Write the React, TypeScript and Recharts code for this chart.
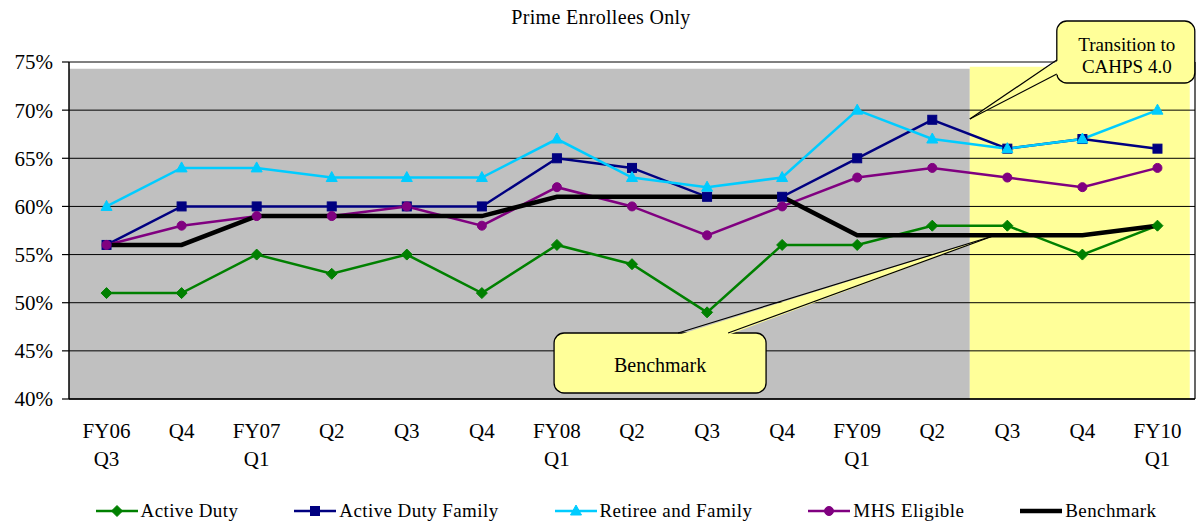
import React from "react";
import {
  LineChart,
  Line,
  XAxis,
  YAxis,
  CartesianGrid,
  ReferenceArea,
  ReferenceDot,
  ReferenceLine,
  Legend,
} from "recharts";

const FONT = '"Liberation Serif", "Times New Roman", serif';

// quarter labels, split in two rows like the original
const quarterTop = ["FY06", "Q4", "FY07", "Q2", "Q3", "Q4", "FY08", "Q2", "Q3", "Q4", "FY09", "Q2", "Q3", "Q4", "FY10"];
const quarterBottom = ["Q3", "", "Q1", "", "", "", "Q1", "", "", "", "Q1", "", "", "", "Q1"];

// percent values per quarter
const activeDuty = [51, 51, 55, 53, 55, 51, 56, 54, 49, 56, 56, 58, 58, 55, 58];
const activeDutyFamily = [56, 60, 60, 60, 60, 60, 65, 64, 61, 61, 65, 69, 66, 67, 66];
const retireeFamily = [60, 64, 64, 63, 63, 63, 67, 63, 62, 63, 70, 67, 66, 67, 70];
const mhsEligible = [56, 58, 59, 59, 60, 58, 62, 60, 57, 60, 63, 64, 63, 62, 64];
const benchmark = [56, 56, 59, 59, 59, 59, 61, 61, 61, 61, 57, 57, 57, 57, 58];

const yTicks = [40, 45, 50, 55, 60, 65, 70, 75];

const rows = quarterTop.map((q, i) => ({
  idx: i,
  ad: activeDuty[i],
  adf: activeDutyFamily[i],
  ret: retireeFamily[i],
  mhs: mhsEligible[i],
  bench: benchmark[i],
}));

const centerTicks = quarterTop.map((_, i) => i);
const edgeTicks = [...centerTicks.map((i) => i - 0.5), quarterTop.length - 0.5];

// axis ids: the tick-mark axis must sort first so it sits right under the plot
const EDGE = "a_edge";
const CAT = "b_cat";

type Shape = "diamond" | "square" | "triangle" | "circle" | "none";

const series: { key: string; name: string; color: string; width: number; shape: Shape }[] = [
  { key: "ad", name: "Active Duty", color: "#008000", width: 2.5, shape: "diamond" },
  { key: "adf", name: "Active Duty Family", color: "#000080", width: 2.5, shape: "square" },
  { key: "ret", name: "Retiree and Family", color: "#00CCFF", width: 2.5, shape: "triangle" },
  { key: "mhs", name: "MHS Eligible", color: "#800080", width: 2.5, shape: "circle" },
  { key: "bench", name: "Benchmark", color: "#000000", width: 4.5, shape: "none" },
];

function Marker({ cx, cy, shape, color }: { cx: number; cy: number; shape: Shape; color: string }) {
  if (cx == null || cy == null) return null;
  switch (shape) {
    case "diamond":
      return <polygon points={`${cx},${cy - 5.5} ${cx + 5.5},${cy} ${cx},${cy + 5.5} ${cx - 5.5},${cy}`} fill={color} stroke={color} />;
    case "square":
      return <rect x={cx - 4.5} y={cy - 4.5} width={9} height={9} fill={color} stroke={color} />;
    case "triangle":
      return <polygon points={`${cx},${cy - 6} ${cx + 5.5},${cy + 4} ${cx - 5.5},${cy + 4}`} fill={color} stroke={color} />;
    case "circle":
      return <circle cx={cx} cy={cy} r={4.5} fill={color} stroke={color} />;
    default:
      return null;
  }
}

function QuarterTick(props: any) {
  const { x, y, payload } = props;
  const i = payload.value;
  return (
    <text x={x} y={y} textAnchor="middle" fontFamily={FONT} fontSize={21} fill="#000">
      <tspan x={x} dy={32}>{quarterTop[i]}</tspan>
      {quarterBottom[i] && <tspan x={x} dy={28}>{quarterBottom[i]}</tspan>}
    </text>
  );
}

function Callout({
  cx, cy, box, base, lines, textX, textY, fontSize,
}: {
  cx: number; cy: number;
  box: [number, number, number, number];
  base: [number, number, number, number];
  lines: string[]; textX: number; textY: number[]; fontSize: number;
}) {
  const [bx, by, bw, bh] = box;
  const [p1x, p1y, p2x, p2y] = base;
  // nudge the filled wedge into the box so it hides the border between the two base points
  const inX = p1x === p2x ? (p1x <= bx + 1 ? 2 : -2) : 0;
  const inY = p1y === p2y ? (p1y <= by + 1 ? 2 : -2) : 0;
  return (
    <g>
      <rect x={cx + bx} y={cy + by} width={bw} height={bh} rx={10} ry={10} fill="#FFFF99" stroke="#000" strokeWidth={1.3} />
      <polygon
        points={`${cx + p1x + inX},${cy + p1y + inY} ${cx},${cy} ${cx + p2x + inX},${cy + p2y + inY}`}
        fill="#FFFF99"
      />
      <line x1={cx + p1x} y1={cy + p1y} x2={cx} y2={cy} stroke="#000" strokeWidth={1.2} />
      <line x1={cx + p2x} y1={cy + p2y} x2={cx} y2={cy} stroke="#000" strokeWidth={1.2} />
      {lines.map((t, i) => (
        <text key={t} x={cx + textX} y={cy + textY[i]} textAnchor="middle" fontFamily={FONT} fontSize={fontSize} fill="#000">
          {t}
        </text>
      ))}
    </g>
  );
}

function LegendRow() {
  return (
    <div
      style={{
        height: 36,
        boxSizing: "border-box",
        paddingTop: 13,
        paddingLeft: 48,
        display: "flex",
        justifyContent: "center",
      }}
    >
      {series.map((s, i) => (
        <div key={s.key} style={{ display: "flex", alignItems: "center", height: 22, marginLeft: i ? 56 : 0 }}>
          <svg width={42} height={14} style={{ display: "block" }}>
            <line x1={0} y1={7} x2={42} y2={7} stroke={s.color} strokeWidth={s.width} />
            <Marker cx={21} cy={7} shape={s.shape} color={s.color} />
          </svg>
          <span
            style={{
              marginLeft: 3,
              fontFamily: FONT,
              fontSize: 19,
              letterSpacing: 0.4,
              color: "#000",
              whiteSpace: "nowrap",
              lineHeight: "22px",
            }}
          >
            {s.name}
          </span>
        </div>
      ))}
    </div>
  );
}

export default function App() {
  return (
    <div style={{ position: "absolute", left: 0, top: 0, width: 1196, height: 523, background: "#fff" }}>
      <div
        style={{
          position: "absolute",
          left: 0,
          top: 7,
          width: 1196,
          paddingLeft: 6,
          boxSizing: "border-box",
          textAlign: "center",
          fontFamily: FONT,
          fontSize: 20,
          letterSpacing: 0.3,
          lineHeight: "20px",
          color: "#000",
          zIndex: 2,
          pointerEvents: "none",
        }}
      >
        Prime Enrollees Only
      </div>
      <LineChart width={1196} height={523} data={rows} margin={{ top: 62, right: 1, left: 9, bottom: 0 }}>
        <ReferenceArea xAxisId={CAT} x1={-0.5} x2={11.5} y1={40} y2={74.3} fill="#C0C0C0" fillOpacity={1} stroke="none" zIndex={-200} />
        <ReferenceArea xAxisId={CAT} x1={11.5} x2={14.43} y1={40} y2={74.5} fill="#FFFF99" fillOpacity={1} stroke="none" zIndex={-200} />
        <CartesianGrid xAxisId={CAT} vertical={false} stroke="#000" strokeWidth={1} />
        <XAxis
          xAxisId={EDGE}
          dataKey="idx"
          type="number"
          domain={[-0.5, quarterTop.length - 0.5]}
          ticks={edgeTicks}
          tick={false}
          tickSize={6}
          height={7}
          axisLine={{ stroke: "#000", strokeWidth: 1.5 }}
          tickLine={{ stroke: "#000", strokeWidth: 1.2 }}
        />
        <XAxis
          xAxisId={CAT}
          dataKey="idx"
          type="number"
          domain={[-0.5, quarterTop.length - 0.5]}
          ticks={centerTicks}
          interval={0}
          tick={<QuarterTick />}
          tickSize={0}
          tickMargin={0}
          height={81}
          axisLine={false}
          tickLine={false}
        />
        <YAxis
          domain={[40, 75]}
          ticks={yTicks}
          interval={0}
          width={60}
          tickSize={7}
          tickMargin={9}
          tickFormatter={(v) => `${v}%`}
          tick={{ fill: "#000", fontSize: 21, fontFamily: FONT }}
          axisLine={{ stroke: "#000", strokeWidth: 1.5 }}
          tickLine={{ stroke: "#000", strokeWidth: 1.2 }}
        />
        <ReferenceLine xAxisId={CAT} x={quarterTop.length - 0.5} stroke="#000" strokeWidth={1.2} />
        {series.map((s) => (
          <Line
            key={s.key}
            xAxisId={CAT}
            type="linear"
            dataKey={s.key}
            name={s.name}
            stroke={s.color}
            strokeWidth={s.width}
            dot={
              s.shape === "none"
                ? false
                : (p: any) => <Marker key={`${s.key}-${p.index}`} cx={p.cx} cy={p.cy} shape={s.shape} color={s.color} />
            }
            activeDot={false}
            isAnimationActive={false}
          />
        ))}
        <ReferenceDot
          xAxisId={CAT}
          x={11.5}
          y={69.08}
          r={0}
          shape={(p: any) => (
            <Callout
              cx={p.cx}
              cy={p.cy}
              box={[87, -98, 138, 62]}
              base={[87, -59, 87, -45]}
              lines={["Transition to", "CAHPS 4.0"]}
              textX={157}
              textY={[-68, -46]}
              fontSize={19}
            />
          )}
        />
        <ReferenceDot
          xAxisId={CAT}
          x={11.81}
          y={56.93}
          r={0}
          shape={(p: any) => (
            <Callout
              cx={p.cx}
              cy={p.cy}
              box={[-439, 97, 212, 60]}
              base={[-315, 97, -265, 97]}
              lines={["Benchmark"]}
              textX={-333}
              textY={[136]}
              fontSize={20}
            />
          )}
        />
        <Legend verticalAlign="bottom" content={() => <LegendRow />} />
      </LineChart>
    </div>
  );
}
